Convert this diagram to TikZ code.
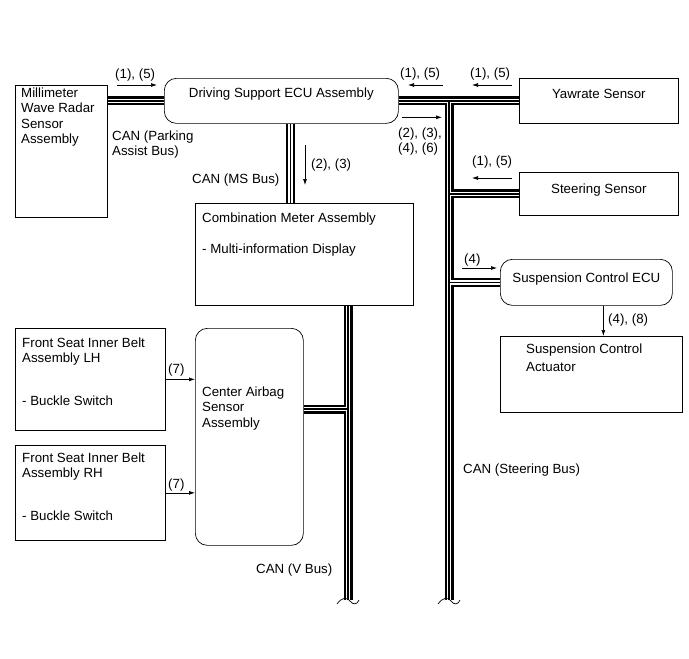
\documentclass[tikz,border=0pt]{standalone}
\usepackage{fontspec}
\setmainfont{Liberation Sans}
\usetikzlibrary{arrows.meta,calc}

\newcommand{\fs}{\fontsize{13.3}{15.5}\selectfont}
\tikzset{
  box/.style={draw, line width=0.7pt, anchor=north west, inner sep=0pt},
  rbox/.style={box, rounded corners=12pt},
  sig/.style={-{Latex[length=6pt,width=4pt]}, line width=0.7pt},
  sl/.style={inner sep=0pt, font=\fs},
  txt/.style={inner sep=0pt, font=\fs, align=left, anchor=north west},
  ttl/.style={inner sep=0pt, font=\fs, anchor=base},
}

\begin{document}
\begin{tikzpicture}[x=1pt,y=-1pt]
\useasboundingbox (0,0) rectangle (689,659);

% units
\node[box, minimum width=92pt, minimum height=132pt,
  label={[txt, xshift=6pt, yshift=-2.3pt]north west:Millimeter\\Wave Radar\\Sensor\\Assembly}] (radar) at (15,85) {};
\node[rbox, minimum width=234pt, minimum height=45pt,
  label={[ttl, yshift=-19pt]north:Driving Support ECU Assembly}] (ecu) at (164,78) {};
\node[box, minimum width=159pt, minimum height=45pt,
  label={[ttl, yshift=-20pt]north:Yawrate Sensor}] (yaw) at (519,78) {};
\node[box, minimum width=159pt, minimum height=43pt,
  label={[ttl, yshift=-21pt]north:Steering Sensor}] (steer) at (519,172) {};
\node[box, minimum width=218pt, minimum height=102pt,
  label={[txt, xshift=7pt, yshift=-9.3pt]north west:Combination Meter Assembly\\[15.5pt]- Multi-information Display}] (meter) at (195,203) {};
\node[rbox, minimum width=108pt, minimum height=217pt,
  label={[txt, xshift=7pt, yshift=-58.3pt]north west:Center Airbag\\Sensor\\Assembly}] (bag) at (195,328) {};
\node[box, minimum width=150pt, minimum height=102pt,
  label={[txt, xshift=7pt, yshift=-9.3pt]north west:Front Seat Inner Belt\\Assembly LH\\[27pt]- Buckle Switch}] (lh) at (15,328) {};
\node[box, minimum width=150pt, minimum height=95pt,
  label={[txt, xshift=7pt, yshift=-7.3pt]north west:Front Seat Inner Belt\\Assembly RH\\[27pt]- Buckle Switch}] (rh) at (15,445) {};
\node[rbox, minimum width=172pt, minimum height=46pt,
  label={[ttl, yshift=-23pt]north:Suspension Control ECU}] (susp) at (500,259) {};
\node[box, minimum width=182pt, minimum height=76pt,
  label={[txt, xshift=26pt, yshift=-7.3pt]north west:Suspension Control\\[3pt]Actuator}] (act) at (500,336) {};

% bus ends
\coordinate (vbend) at (348,600);
\coordinate (sbend) at (449,600);
\coordinate (vtap) at (348,409);

% CAN lines
\foreach \w/\c in {9/black,4.4/white,1.6/black}
{ \draw[line width=\w pt, color=\c] (radar.east |- ecu.west)--(ecu.west);
  \draw[line width=\w pt, color=\c] (ecu.east)--(yaw.west);
  \draw[line width=\w pt, color=\c] (ecu.east -| sbend)--(sbend);
  \draw[line width=\w pt, color=\c] (sbend |- steer.west)--(steer.west);
  \draw[line width=\w pt, color=\c] (sbend |- susp.west)--(susp.west);
  \draw[line width=\w pt, color=\c] ([xshift=9pt]ecu.south)--([xshift=9pt]ecu.south |- meter.north);
  \draw[line width=\w pt, color=\c] (meter.south -| vbend)--(vbend);
  \draw[line width=\w pt, color=\c] (bag.east |- vtap)--(vtap);
}
\foreach \e in {vbend,sbend}
{ \draw[line width=0.7pt] ([shift={(-11,4)}]\e) .. controls ([shift={(-6,-3)}]\e) and ([shift={(-1,-3)}]\e) .. ([shift={(2,1)}]\e)
    .. controls ([shift={(5,5)}]\e) and ([shift={(9,5)}]\e) .. ([shift={(11,0)}]\e);
}

% bus names
\node[txt] (cpa) at (112,130.3) {CAN (Parking\\Assist Bus)};
\node[sl, anchor=base west] (cms) at (192,183) {CAN (MS Bus)};
\node[sl, anchor=base west] (csb) at (463,473) {CAN (Steering Bus)};
\node[sl, anchor=base west] (cvb) at (256,573) {CAN (V Bus)};

% signals
\node[sl, anchor=base west] (p1) at (115,78) {(1), (5)};
\draw[sig] ([shift={(2,7)}]p1.base west) -- ++(40,0);
\node[sl, anchor=base west] (p2) at (400,77) {(1), (5)};
\draw[sig] ([shift={(43,8)}]p2.base west) -- ++(-35,0);
\node[sl, anchor=base west] (p3) at (470,77) {(1), (5)};
\draw[sig] ([shift={(42,8)}]p3.base west) -- ++(-40,0);
\node[txt] (p4) at (398,127.3) {(2), (3),\\(4), (6)};
\draw[sig] ([shift={(4,-10)}]p4.north west) -- ++(40,0);
\node[sl, anchor=base west] (p5) at (311,168) {(2), (3)};
\draw[sig] ([shift={(-6,-23)}]p5.base west) -- ++(0,40);
\node[sl, anchor=base west] (p6) at (472,165) {(1), (5)};
\draw[sig] ([shift={(40,13)}]p6.base west) -- ++(-40,0);
\node[sl, anchor=base west] (p7) at (464,263) {(4)};
\draw[sig] ([shift={(-2,5)}]p7.base west) -- ++(35,0);
\node[sl, anchor=base west] (p8) at (608,323) {(4), (8)};
\draw[sig] ([xshift=17pt]susp.south) -- ([xshift=17pt]susp.south |- act.north);
\node[sl, anchor=base west] (p9) at (168,373) {(7)};
\draw[sig] (lh.east) -- (lh.east -| bag.west);
\node[sl, anchor=base west] (p10) at (168,488) {(7)};
\draw[sig] (rh.east) -- (rh.east -| bag.west);
\end{tikzpicture}
\end{document}
